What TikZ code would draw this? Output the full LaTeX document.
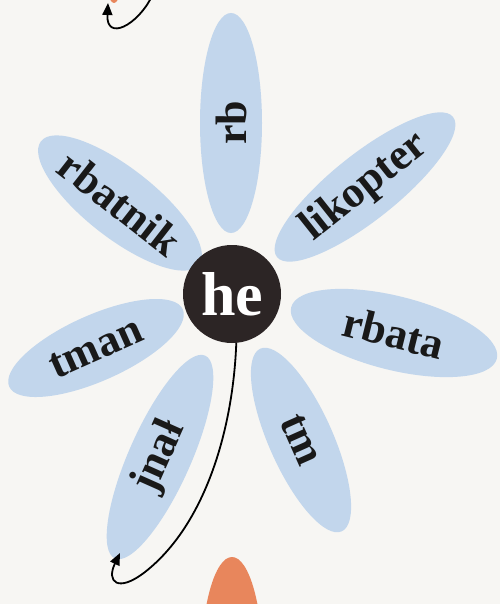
\documentclass[tikz,border=0pt]{standalone}
\usepackage{fontspec}
\setmainfont{Liberation Serif}
\usepackage{tikz}
\usetikzlibrary{shapes.geometric, arrows.meta}
\definecolor{petalblue}{RGB}{194,214,236}
\definecolor{petalorange}{RGB}{232,134,92}
\definecolor{centerdark}{RGB}{44,37,37}
\definecolor{paper}{RGB}{247,246,243}

\begin{document}
\begin{tikzpicture}[x=1pt, y=-1pt,
  petal/.style={ellipse, fill=petalblue, inner sep=0pt, text=black!90,
    font=\fontsize{44}{48}\selectfont\bfseries},
  link/.style={line width=1.8pt, -{Triangle[length=12pt, width=10pt]}}]
  \useasboundingbox (0,0) rectangle (500,604);
  \clip (0,0) rectangle (500,604);
  \fill[paper] (0,0) rectangle (500,604);
  \fill[petalorange] (114,-40) ellipse [x radius=10, y radius=43];
  \fill[petalorange] (232,667) ellipse [x radius=31, y radius=110];
  \node[petal, minimum width=220pt, minimum height=62pt, rotate=90] (rb) at (231,123) {rb};
  \node[petal, minimum width=180pt, minimum height=70pt, rotate=-38] (rbatnik) at (120,203) {rbatnik};
  \node[petal, minimum width=225pt, minimum height=66pt, rotate=38.5] (likopter) at (365,187) {likopter};
  \node[petal, minimum width=212pt, minimum height=74pt, rotate=-14] (rbata) at (394,333) {rbata};
  \node[petal, minimum width=190pt, minimum height=66pt, rotate=24] (tman) at (96,348) {tman};
  \node[petal, minimum width=222pt, minimum height=62pt, rotate=66] (jnal) at (160,457) {jnał};
  \node[petal, minimum width=200pt, minimum height=64pt, rotate=-66] (tm) at (301,440) {tm};
  \node[circle, fill=centerdark, minimum size=98pt, inner sep=0pt, text=white,
    font=\fontsize{62}{66}\selectfont\bfseries] (he) at (232,294) {he};
  \coordinate (jtip) at (120,553);
  \coordinate (toptip) at (108,3);
  \draw[link] (he.-85) .. controls (233,430) and (205,525) .. (145,572)
    .. controls (118,593) and (106,582) .. (jtip);
  \draw[link] (152,-4) .. controls (138,25) and (106,42) .. (toptip);
\end{tikzpicture}
\end{document}
